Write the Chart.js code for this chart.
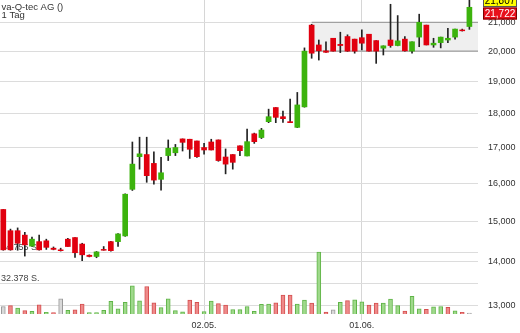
<!DOCTYPE html>
<html>
<head>
<meta charset="utf-8">
<script src="https://cdn.jsdelivr.net/npm/chart.js@4.4.1/dist/chart.umd.min.js"></script>
<style>
  html, body { margin: 0; padding: 0; background: #fff; }
  canvas { display: block; }
</style>
</head>
<body>
<canvas id="kurs-chart" width="520" height="333"></canvas>
<script>
var days = [
  "20.03.", "21.03.", "22.03.", "23.03.", "24.03.", "27.03.", "28.03.", "29.03.", "30.03.", "31.03.",
  "03.04.", "04.04.", "05.04.", "06.04.", "07.04.", "10.04.", "11.04.", "12.04.", "13.04.", "18.04.",
  "19.04.", "20.04.", "21.04.", "24.04.", "25.04.", "26.04.", "27.04.", "28.04.", "02.05.", "03.05.",
  "04.05.", "05.05.", "08.05.", "09.05.", "10.05.", "11.05.", "12.05.", "15.05.", "16.05.", "17.05.",
  "18.05.", "19.05.", "22.05.", "23.05.", "24.05.", "25.05.", "26.05.", "29.05.", "30.05.", "31.05.",
  "01.06.", "02.06.", "05.06.", "06.06.", "07.06.", "08.06.", "09.06.", "12.06.", "13.06.", "14.06.",
  "15.06.", "16.06.", "19.06.", "20.06.", "21.06.", "22.06."
];

var opens = [
  15300, 14760, 14760, 14650, 14380, 14490, 14510, 14330, 14290, 14550,
  14590, 14430, 14160, 14130, 14300, 14490, 14490, 14630, 15830, 16730,
  16790, 16540, 16100, 16760, 16840, 17240, 17230, 17180, 16990, 17150,
  17210, 16720, 16790, 17040, 16750, 17390, 17280, 17750, 18180, 17900,
  17750, 17580, 18200, 20900, 20210, 20010, 20440, 20230, 20500, 20410,
  20460, 20580, 20360, 20100, 20380, 20190, 20410, 20000, 20480, 20900,
  20210, 20290, 20380, 20480, 20730, 20850
];
var highs = [
  15300, 14800, 14830, 14720, 14600, 14650, 14550, 14360, 14330, 14570,
  14590, 14450, 14170, 14250, 14370, 14500, 14690, 15710, 17150, 17290,
  17290, 16870, 16710, 17210, 17080, 17240, 17230, 17180, 17110, 17230,
  17210, 16950, 16790, 17040, 17530, 17410, 17550, 18130, 18180, 18070,
  18440, 18650, 20110, 20930, 20380, 20320, 20440, 20650, 20560, 20410,
  20730, 20580, 20360, 20180, 21650, 21240, 20500, 20320, 21290, 20900,
  20440, 20480, 20790, 20760, 20760, 21807
];
var lows = [
  14280, 14280, 14280, 14140, 14370, 14280, 14300, 14290, 14260, 14370,
  14110, 14030, 14120, 14100, 14280, 14260, 14370, 14620, 15800, 16380,
  16020, 15970, 15810, 16620, 16760, 16890, 16680, 16710, 16800, 16920,
  16600, 16250, 16380, 16760, 16750, 17110, 17250, 17720, 17720, 17730,
  17720, 17570, 18190, 19760, 19700, 19960, 20000, 19950, 19990, 19930,
  20040, 20000, 19590, 19870, 20130, 20180, 20000, 19930, 20150, 20210,
  20130, 20110, 20290, 20410, 20690, 20750
];
var closes = [
  14290, 14290, 14450, 14410, 14550, 14290, 14350, 14300, 14270, 14370,
  14220, 14170, 14130, 14240, 14280, 14270, 14680, 15700, 16520, 16810,
  16200, 16080, 16280, 16970, 16990, 17140, 16940, 16730, 16920, 16920,
  16620, 16520, 16570, 16900, 17160, 17160, 17500, 17900, 17880, 17840,
  17720, 18260, 20000, 19930, 20010, 19960, 20000, 20190, 20000, 20000,
  20270, 20000, 20000, 20180, 20190, 20350, 20010, 20320, 21000, 20210,
  20270, 20480, 20440, 20760, 20700, 21540
];

var volumes = [
  7900, 8700, 6300, 3500, 2700, 9700, 1700, 1400, 16000, 3800,
  4500, 10400, 1400, 1400, 3800, 13200, 5500, 12100, 29500, 13900,
  28800, 11800, 6600, 15800, 3600, 2200, 14500, 12300, 2500, 13500,
  10900, 9300, 4700, 4600, 7900, 2900, 10200, 10500, 11600, 19900,
  19900, 10500, 14700, 11500, 65000, 2100, 4300, 12300, 14000, 14900,
  12800, 9400, 11500, 11500, 15700, 8700, 3100, 18400, 5500, 4800,
  7600, 7900, 6900, 3400, 1700, 1000
];
// g = gestiegen, r = gefallen, n = unverändert
var volumeTrend = [
  "n", "r", "g", "r", "g", "r", "g", "r", "n", "g",
  "r", "r", "g", "g", "g", "g", "g", "g", "g", "g",
  "r", "r", "g", "g", "g", "g", "r", "r", "g", "g",
  "r", "r", "g", "g", "g", "g", "g", "g", "r", "r",
  "r", "g", "g", "r", "g", "r", "n", "g", "r", "g",
  "g", "r", "r", "g", "g", "g", "r", "g", "g", "r",
  "g", "g", "r", "g", "r", "n"
];

var priceTicks = [13000, 14000, 15000, 16000, 17000, 18000, 19000, 20000, 21000];
var volumeTicks = [32378, 64755];
var dateTicks = [28, 50];
var rangeStart = 43;
var rangeLow = 20000;
var rangeHigh = 21000;
var quoteHigh = 21807;
var quoteLast = 21722;

var fontFamily = "'Liberation Sans', Arial, Helvetica, sans-serif";

var candleColors = {
  up: "#3cb30d",
  down: "#e1000f"
};
var volumeFill = { g: "#9fd98b", r: "#ee8a8a", n: "#d9d9d9" };
var volumeBorder = { g: "#5fb447", r: "#d44f4f", n: "#9a9a9a" };

function thousands(v, sep) {
  return String(Math.round(v)).replace(/\B(?=(\d{3})+(?!\d))/g, sep);
}

function noPadding(scale) {
  scale.paddingTop = 0;
  scale.paddingBottom = 0;
  scale.paddingLeft = 0;
  scale.paddingRight = 0;
}

var bodies = opens.map(function (o, i) {
  return { x: i, y: [o, closes[i]] };
});
var wicks = lows.map(function (l, i) {
  return { x: i, y: [l, highs[i]] };
});
var volumeBars = volumes.map(function (v, i) {
  return { x: i, y: v };
});

var overlayPlugin = {
  id: "overlay",
  beforeDatasetsDraw: function (chart) {
    var ctx = chart.ctx;
    var area = chart.chartArea;
    var x = chart.scales.x;
    var y = chart.scales.y;
    var yv = chart.scales.yv;

    // Seitwärtsbereich
    var left = x.getPixelForValue(rangeStart);
    var top = y.getPixelForValue(rangeHigh);
    var bottom = y.getPixelForValue(rangeLow);
    ctx.save();
    ctx.fillStyle = "#efefef";
    ctx.fillRect(left, top, area.right - left, bottom - top);
    ctx.strokeStyle = "#a0a0a0";
    ctx.lineWidth = 1.2;
    ctx.beginPath();
    ctx.moveTo(left, top);
    ctx.lineTo(area.right, top);
    ctx.moveTo(left, bottom);
    ctx.lineTo(area.right, bottom);
    ctx.stroke();

    // Volumen-Beschriftung
    ctx.font = "9px " + fontFamily;
    ctx.fillStyle = "#444";
    ctx.textAlign = "left";
    ctx.textBaseline = "alphabetic";
    volumeTicks.forEach(function (v) {
      ctx.fillText(thousands(v, ".") + " S.", area.left + 1, yv.getPixelForValue(v) - 2);
    });
    ctx.restore();
  },
  afterDraw: function (chart) {
    var ctx = chart.ctx;
    var area = chart.chartArea;
    var y = chart.scales.y;

    ctx.save();
    ctx.font = "9.5px " + fontFamily;
    ctx.fillStyle = "#333";
    ctx.textAlign = "left";
    ctx.textBaseline = "alphabetic";
    ctx.fillText("va-Q-tec AG ()", area.left + 1.5, 9.5);
    ctx.fillText("1 Tag", area.left + 1.5, 17.5);

    // Kursmarken rechts
    var bx = area.right + 5;
    var bw = 34;
    var yHigh = y.getPixelForValue(quoteHigh);
    ctx.fillStyle = "#ffff00";
    ctx.fillRect(bx, yHigh - 6, bw, 13);
    ctx.strokeStyle = "#555";
    ctx.lineWidth = 1;
    ctx.strokeRect(bx + 0.5, yHigh - 5.5, bw - 1, 12);
    ctx.fillStyle = "#000";
    ctx.font = "10px " + fontFamily;
    ctx.textAlign = "center";
    ctx.textBaseline = "middle";
    ctx.fillText(thousands(quoteHigh, ","), bx + bw / 2, yHigh + 1);

    var yLast = yHigh + 13.5;
    ctx.fillStyle = "#e8101c";
    ctx.fillRect(bx, yLast - 6, bw, 12);
    ctx.strokeStyle = "#7a0000";
    ctx.strokeRect(bx + 0.5, yLast - 5.5, bw - 1, 11);
    ctx.fillStyle = "#fff";
    ctx.fillText(thousands(quoteLast, ","), bx + bw / 2, yLast + 0.5);
    ctx.restore();
  }
};

var ctx = document.getElementById("kurs-chart");

new Chart(ctx, {
  type: "bar",
  data: {
    datasets: [
      {
        label: "Körper",
        data: bodies,
        yAxisID: "y",
        order: 0,
        grouped: false,
        barThickness: 5,
        borderWidth: 0,
        borderSkipped: false,
        backgroundColor: opens.map(function (o, i) {
          return closes[i] >= o ? candleColors.up : candleColors.down;
        })
      },
      {
        label: "Docht",
        data: wicks,
        yAxisID: "y",
        order: 1,
        grouped: false,
        barThickness: 1,
        borderWidth: 0,
        backgroundColor: "#222"
      },
      {
        label: "Volumen",
        data: volumeBars,
        yAxisID: "yv",
        order: 2,
        grouped: false,
        barThickness: 4,
        borderWidth: 1,
        borderSkipped: "bottom",
        backgroundColor: volumeTrend.map(function (t) { return volumeFill[t]; }),
        borderColor: volumeTrend.map(function (t) { return volumeBorder[t]; })
      }
    ]
  },
  options: {
    responsive: false,
    animation: false,
    layout: { padding: 0 },
    plugins: {
      legend: { display: false },
      tooltip: { enabled: false }
    },
    scales: {
      x: {
        type: "linear",
        offset: false,
        min: -0.46,
        max: 66.2,
        bounds: "data",
        afterBuildTicks: function (scale) {
          scale.ticks = dateTicks.map(function (v) { return { value: v }; });
        },
        afterFit: function (scale) {
          scale.height = 19;
          noPadding(scale);
        },
        ticks: {
          autoSkip: false,
          maxRotation: 0,
          padding: 0,
          color: "#333",
          font: { family: fontFamily, size: 9 },
          callback: function (v) { return days[v]; }
        },
        grid: { offset: false, color: "#d6d6d6", lineWidth: 1, tickLength: 6 },
        border: { display: false }
      },
      y: {
        type: "logarithmic",
        position: "right",
        min: 12820,
        max: 21807,
        bounds: "data",
        afterBuildTicks: function (scale) {
          scale.ticks = priceTicks.map(function (v) { return { value: v }; });
        },
        afterFit: function (scale) {
          scale.width = 42;
          noPadding(scale);
        },
        ticks: {
          padding: 10,
          color: "#333",
          font: { family: fontFamily, size: 9 },
          callback: function (v) { return thousands(v, ","); }
        },
        grid: { color: "#dcdcdc", lineWidth: 1, drawTicks: false },
        border: { display: false }
      },
      yv: {
        type: "linear",
        position: "left",
        min: 0,
        max: 329000,
        bounds: "data",
        afterBuildTicks: function (scale) {
          scale.ticks = volumeTicks.map(function (v) { return { value: v }; });
        },
        afterFit: function (scale) {
          scale.width = 0;
          noPadding(scale);
        },
        ticks: { display: false },
        grid: { color: "#dcdcdc", lineWidth: 1, drawTicks: false },
        border: { display: false }
      }
    }
  },
  plugins: [overlayPlugin]
});
</script>
</body>
</html>
